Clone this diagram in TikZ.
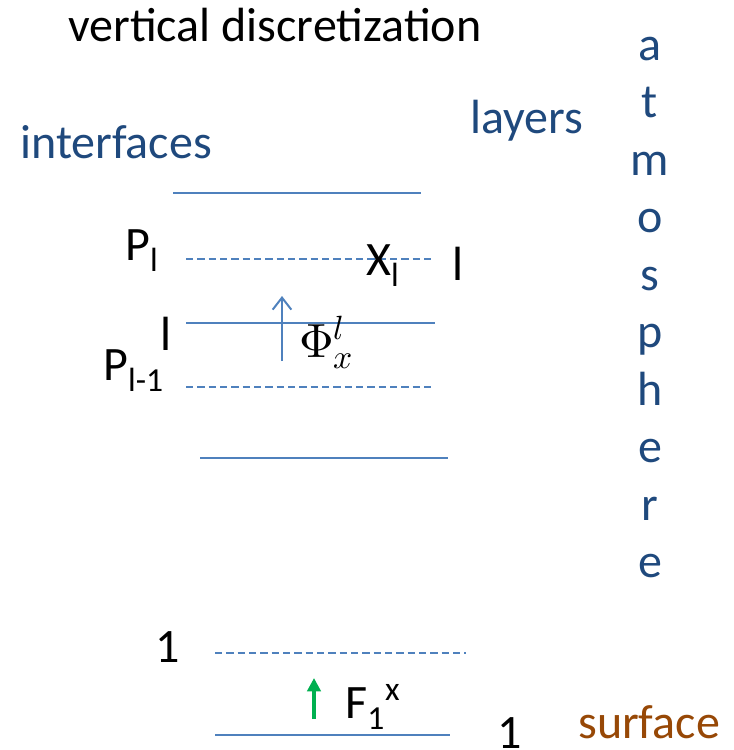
\documentclass[tikz,border=0pt]{standalone}
\usepackage{fontspec}
\usepackage{unicode-math}
\setmainfont{Carlito}
\setmathfont{Latin Modern Math}
\usetikzlibrary{arrows.meta}
\definecolor{lineblue}{HTML}{4F81BD}
\definecolor{textblue}{HTML}{1F497D}
\definecolor{surfbrown}{HTML}{974806}
\definecolor{arrgreen}{HTML}{00B050}
\tikzset{
  txt/.style={inner sep=0pt, anchor=base west, font=\fontsize{36}{42}\selectfont},
  bluetxt/.style={txt, text=textblue},
  solidline/.style={lineblue, line width=1.5pt},
  dashline/.style={lineblue, line width=1.2pt, dash pattern=on 5.5pt off 3pt},
  atm/.style={inner sep=0pt, anchor=base, text=textblue, font=\fontsize{36}{42}\selectfont},
}
\begin{document}
\begin{tikzpicture}[x=0.75pt, y=-0.75pt]
\useasboundingbox (0,0) rectangle (734,750);
% titles
\node[txt] (title) at (68,41) {vertical discretization};
\node[bluetxt] (interfaces) at (20,158) {interfaces};
\node[bluetxt] (layers) at (470,133) {layers};
% atmosphere letters
\foreach \ch [count=\i from 0] in {a,t,m,o,s,p,h,e,r,e} {
  \node[atm] (atm\i) at (650,{60+57.5*\i}) {\ch};
}
% levels
\coordinate (l1a) at (173,193); \coordinate (l1b) at (421,193);
\coordinate (l2a) at (186,259); \coordinate (l2b) at (435,259);
\coordinate (l3a) at (186,323); \coordinate (l3b) at (435,323);
\coordinate (l4a) at (186,387); \coordinate (l4b) at (435,387);
\coordinate (l5a) at (200,458); \coordinate (l5b) at (448,458);
\coordinate (l6a) at (215,653); \coordinate (l6b) at (466,653);
\coordinate (l7a) at (215,735); \coordinate (l7b) at (450,735);
\draw[solidline] (l1a) -- (l1b);
\draw[dashline] (l2a) -- (l2b);
\draw[solidline] (l3a) -- (l3b);
\draw[dashline] (l4a) -- (l4b);
\draw[solidline] (l5a) -- (l5b);
\draw[dashline] (l6a) -- (l6b);
\draw[solidline] (l7a) -- (l7b);
% labels
\node[txt] (Pl) at (125,260) {P\textsubscript{l}};
\node[txt] (Xl) at (366,275) {X\textsubscript{l}};
\node[txt] (lr) at (452,280) {l};
\node[txt] (ll) at (160,350) {l};
\node[txt] (Plm) at (103,380) {P\textsubscript{l-1}};
\node[txt] (phi) at (299,357) {$\Phi_x^l$};
\node[txt] (one1) at (155,662) {1};
\node[txt] (F) at (345,718) {F\textsubscript{1}\textsuperscript{x}};
\node[txt] (one2) at (497,748) {1};
\node[txt, text=surfbrown] (surface) at (578,738) {surface};
% arrows
\coordinate (pa) at (282,361); \coordinate (pb) at (282,296);
\draw[lineblue, line width=1.5pt, -{Straight Barb[length=9pt,width=14pt]}] (pa) -- (pb);
\coordinate (ga) at (314,719); \coordinate (gb) at (314,678);
\draw[arrgreen, line width=2.5pt, -{Triangle[length=10pt,width=10pt]}] (ga) -- (gb);
\end{tikzpicture}
\end{document}
